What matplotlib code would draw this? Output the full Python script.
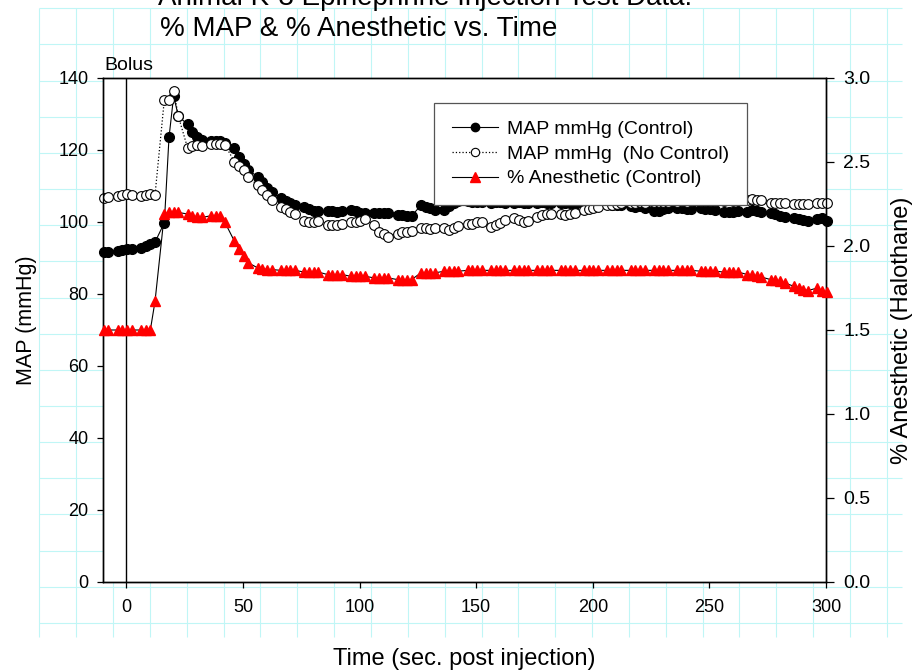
import matplotlib
matplotlib.use("Agg")
import matplotlib.pyplot as plt
from matplotlib.lines import Line2D

plt.rcParams['font.family'] = ['Liberation Sans', 'DejaVu Sans']

# sample times (sec. post injection)
t = [-9.7, -7.7,
     -3.7, -1.7, 0.3, 2.3, 6.3, 8.3, 10.3, 12.3,
     16.3, 18.3, 20.3, 22.3, 26.3, 28.3, 30.3, 32.3,
     36.3, 38.3, 40.3, 42.3, 46.3, 48.3, 50.3, 52.3,
     56.3, 58.3, 60.3, 62.3, 66.3, 68.3, 70.3, 72.3,
     76.3, 78.3, 80.3, 82.3, 86.3, 88.3, 90.3, 92.3,
     96.3, 98.3, 100.3, 102.3, 106.3, 108.3, 110.3, 112.3,
     116.3, 118.3, 120.3, 122.3, 126.3, 128.3, 130.3, 132.3,
     136.3, 138.3, 140.3, 142.3, 146.3, 148.3, 150.3, 152.3,
     156.3, 158.3, 160.3, 162.3, 166.3, 168.3, 170.3, 172.3,
     176.3, 178.3, 180.3, 182.3, 186.3, 188.3, 190.3, 192.3,
     196.3, 198.3, 200.3, 202.3, 206.3, 208.3, 210.3, 212.3,
     216.3, 218.3, 220.3, 222.3, 226.3, 228.3, 230.3, 232.3,
     236.3, 238.3, 240.3, 242.3, 246.3, 248.3, 250.3, 252.3,
     256.3, 258.3, 260.3, 262.3, 266.3, 268.3, 270.3, 272.3,
     276.3, 278.3, 280.3, 282.3, 286.3, 288.3, 290.3, 292.3,
     296.3, 298.3, 300.3]

# MAP mmHg (Control)
map_control = [91.8, 91.8,
               92.0, 92.2, 92.5, 92.6, 92.8, 93.3, 93.8, 94.4,
               99.8, 123.5, 135.0, 129.4, 127.1, 125.0, 123.7, 122.8,
               122.6, 122.5, 122.4, 122.0, 120.5, 118.0, 116.0, 114.4,
               112.6, 111.0, 109.5, 108.4, 106.6, 105.7, 105.2, 104.8,
               104.1, 103.5, 103.1, 103.0, 103.1, 103.0, 102.9, 103.0,
               103.4, 103.0, 102.6, 102.4, 102.4, 102.5, 102.4, 102.4,
               102.0, 101.9, 101.8, 101.7, 104.6, 104.2, 103.8, 103.3,
               103.3, 104.4, 105.2, 105.8, 105.8, 105.6, 105.5, 105.6,
               105.4, 105.5, 105.6, 105.4, 105.3, 105.5, 105.4, 105.2,
               105.4, 105.5, 105.3, 105.2, 105.3, 105.4, 105.2, 105.0,
               105.1, 105.2, 105.0, 104.9, 104.9, 104.8, 104.7, 104.6,
               104.4, 104.3, 104.4, 104.0, 103.1, 103.0, 103.5, 104.0,
               104.0, 103.8, 103.6, 103.6, 103.8, 103.7, 103.6, 103.4,
               102.9, 102.8, 102.9, 103.0, 102.9, 103.2, 103.0, 102.7,
               102.4, 102.2, 101.6, 101.4, 101.0, 100.7, 100.5, 100.3,
               100.9, 101.0, 100.4]

# MAP mmHg (No Control)
map_nocontrol = [106.6, 107.0,
                 107.2, 107.5, 107.8, 107.6, 107.3, 107.6, 107.7, 107.5,
                 134.0, 134.0, 136.5, 129.4, 120.5, 121.2, 121.3, 121.0,
                 121.8, 121.7, 121.6, 121.4, 116.8, 115.6, 114.4, 112.4,
                 110.3, 108.9, 107.5, 106.1, 104.3, 103.5, 102.9, 102.3,
                 100.2, 100.1, 100.1, 100.3, 99.2, 99.2, 99.2, 99.4,
                 100.1, 100.1, 100.3, 100.8, 99.2, 97.3, 96.8, 95.9,
                 96.8, 97.3, 97.3, 97.5, 98.2, 98.3, 98.0, 98.2,
                 98.2, 97.8, 98.2, 98.8, 99.5, 99.5, 100.0, 100.1,
                 98.7, 99.1, 99.6, 100.6, 101.0, 100.5, 100.1, 100.3,
                 101.5, 101.9, 102.2, 102.3, 102.3, 101.9, 102.3, 102.6,
                 103.3, 103.7, 104.0, 104.2, 104.7, 104.7, 105.0, 105.2,
                 105.3, 105.4, 105.5, 105.4, 105.5, 105.6, 105.5, 105.6,
                 105.6, 105.7, 105.6, 105.7, 105.8, 105.7, 105.8, 105.9,
                 105.9, 106.0, 105.9, 106.0, 106.1, 106.4, 106.1, 106.0,
                 105.4, 105.4, 105.3, 105.2, 105.0, 105.0, 105.0, 105.1,
                 105.3, 105.3, 105.2]

# % Anesthetic (Control), halothane
anesthetic = [1.50, 1.50,
              1.50, 1.50, 1.50, 1.50, 1.50, 1.50, 1.50, 1.67,
              2.19, 2.20, 2.20, 2.20, 2.19, 2.18, 2.17, 2.17,
              2.18, 2.18, 2.18, 2.14, 2.03, 1.98, 1.94, 1.90,
              1.87, 1.865, 1.86, 1.86, 1.855, 1.855, 1.855, 1.855,
              1.845, 1.845, 1.845, 1.845, 1.83, 1.83, 1.83, 1.83,
              1.82, 1.82, 1.82, 1.82, 1.81, 1.81, 1.81, 1.81,
              1.80, 1.80, 1.80, 1.80, 1.84, 1.84, 1.84, 1.84,
              1.85, 1.85, 1.85, 1.85, 1.855, 1.855, 1.855, 1.855,
              1.855, 1.855, 1.855, 1.855, 1.855, 1.855, 1.855, 1.855,
              1.855, 1.855, 1.855, 1.855, 1.855, 1.855, 1.855, 1.855,
              1.855, 1.855, 1.855, 1.855, 1.855, 1.855, 1.855, 1.855,
              1.855, 1.855, 1.855, 1.855, 1.855, 1.855, 1.855, 1.855,
              1.855, 1.855, 1.855, 1.855, 1.85, 1.85, 1.85, 1.85,
              1.845, 1.845, 1.845, 1.845, 1.83, 1.825, 1.82, 1.815,
              1.80, 1.795, 1.79, 1.78, 1.76, 1.75, 1.74, 1.735,
              1.75, 1.73, 1.725]

W, H = 914, 671
fig = plt.figure(figsize=(W / 100, H / 100), dpi=100)

# graph-paper background
bg = fig.add_axes([0, 0, 1, 1], zorder=-5)
bg.set_xlim(0, W)
bg.set_ylim(H, 0)
bg.axis('off')
gx = [39.3 + 36.85 * i for i in range(24)]
gy = [8.3 + 36.15 * i for i in range(18)]
bg.vlines(gx, 8.3, 637, color='#c0f6f6', lw=0.8)
bg.hlines(gy, 39.3, 902, color='#c0f6f6', lw=0.8)

ax = fig.add_axes([103 / W, 1 - 582 / H, 723 / W, 504 / H])
ax.set_facecolor('white')
ax2 = ax.twinx()

l1, = ax.plot(t, map_control, color='black', lw=0.8, marker='o', ms=7,
              mfc='black', mec='black', clip_on=False, zorder=3)
l2, = ax.plot(t, map_nocontrol, color='black', lw=0.9, ls=':', marker='o', ms=7,
              mfc='white', mec='black', mew=0.8, clip_on=False, zorder=4)
l3, = ax2.plot(t, anesthetic, color='black', lw=0.8, marker='^', ms=7.5,
               mfc='red', mec='red', clip_on=False, zorder=3)

ax.axvline(0, color='black', lw=1.0)
ax.text(-9.5, 142.2, 'Bolus', fontsize=14, ha='left', va='baseline')

ax.set_xlim(-10, 300)
ax.set_ylim(0, 140)
ax2.set_ylim(0, 3.0)
ax.set_xticks([0, 50, 100, 150, 200, 250, 300])
ax.set_yticks(range(0, 141, 20))
ax2.set_yticks([0.0, 0.5, 1.0, 1.5, 2.0, 2.5, 3.0])
ax2.set_yticklabels(['0.0', '0.5', '1.0', '1.5', '2.0', '2.5', '3.0'])

for a in (ax, ax2):
    for s in a.spines.values():
        s.set_linewidth(1.0)
ax.tick_params(axis='both', direction='out', length=4.5, width=0.9, labelsize=13, pad=6)
ax.tick_params(axis='x', pad=8)
ax2.tick_params(axis='y', direction='out', length=5.5, width=0.9, labelsize=14, pad=7)

ax.set_xlabel('Time (sec. post injection)', fontsize=17, labelpad=23)
ax.set_ylabel('MAP (mmHg)', fontsize=15.5)
ax.yaxis.set_label_coords(-0.091, 0.52)
ax2.set_ylabel('% Anesthetic (Halothane)', fontsize=17, labelpad=15)

fig.text(158 / W, 1 - 5 / H, 'Animal K-3 Epinephrine Injection Test Data:', fontsize=20,
         ha='left', va='baseline')
fig.text(160 / W, 1 - 36 / H, '% MAP & % Anesthetic vs. Time', fontsize=20,
         ha='left', va='baseline')

leg_handles = [
    Line2D([], [], color='black', lw=0.8, marker='o', ms=6, mfc='black', mec='black'),
    Line2D([], [], color='black', lw=0.9, ls=':', marker='o', ms=6, mfc='white', mec='black', mew=0.8),
    Line2D([], [], color='black', lw=0.8, marker='^', ms=7, mfc='red', mec='red'),
]
leg = ax2.legend(leg_handles, ['MAP mmHg (Control)', 'MAP mmHg  (No Control)', '% Anesthetic (Control)'],
                 loc='upper left', bbox_to_anchor=(434 / W, 1 - 103 / H), bbox_transform=fig.transFigure,
                 borderaxespad=0, fontsize=14, frameon=True, fancybox=False, shadow=False,
                 handlelength=2.4, handletextpad=0.45, labelspacing=0.36, borderpad=0.9, numpoints=1)
leg.get_frame().set_edgecolor('#555555')
leg.get_frame().set_linewidth(0.9)
leg.get_frame().set_alpha(1)

fig.savefig('out.png', dpi=100)
